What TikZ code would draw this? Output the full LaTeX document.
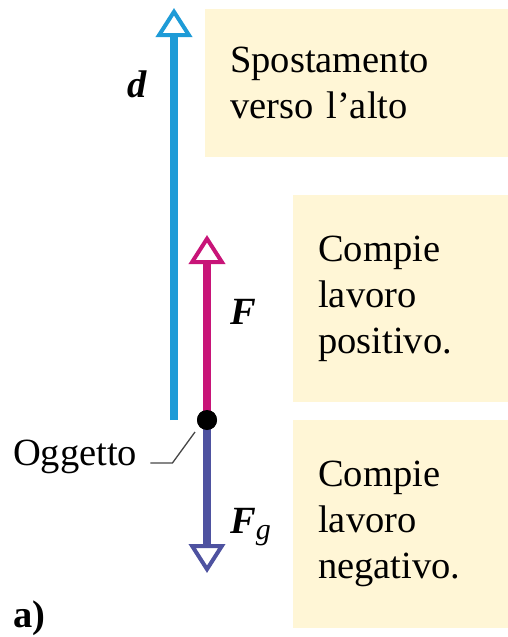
\documentclass[tikz,border=0pt]{standalone}
\usepackage{fontspec}
\setmainfont{Liberation Serif}
\usetikzlibrary{positioning,arrows.meta,calc}
\definecolor{dblue}{RGB}{30,155,215}
\definecolor{fmag}{RGB}{200,20,120}
\definecolor{fgviol}{RGB}{78,82,160}
\definecolor{notefill}{RGB}{255,246,214}
\definecolor{leadgray}{RGB}{70,70,70}

\begin{document}
\begin{tikzpicture}[x=1pt,y=-1pt,font=\fontsize{38.5}{46}\selectfont,
  note/.style={fill=notefill,anchor=north west,align=left,inner xsep=25pt,inner ysep=0pt},
  vec/.style={line width=8pt,-{Triangle[fill=white,length=29pt,width=36pt,line width=4pt]}},
  lbl/.style={inner sep=0pt,anchor=base west},
  leader/.style={draw=leadgray,line width=1.3pt},
  obj/.style={circle,fill=black,inner sep=0pt,minimum size=20pt}]
  \useasboundingbox (0,0) rectangle (508,637);
  % text boxes
  \node[note,text width=253pt,minimum height=148pt] (up) at (205,9) {Spostamento\\verso l’alto};
  \node[note,text width=165pt,minimum height=207pt] (pos) at (293,195) {Compie\\lavoro\\positivo.};
  \node[note,text width=165pt,minimum height=208pt] (neg) at (293,420) {Compie\\lavoro\\negativo.};
  % vectors
  \coordinate (dbot) at (174,420);
  \coordinate (dtop) at (174,8);
  \coordinate (Ftip) at (207,235);
  \coordinate (Fgtip) at (207,573);
  \node[obj] (ogg) at (207,420) {};
  \draw[vec,draw=dblue] (dbot) -- (dtop);
  \draw[vec,draw=fmag] (ogg.center) -- (Ftip);
  \draw[vec,draw=fgviol] (ogg.center) -- (Fgtip);
  \node[obj] at (ogg) {};
  % labels
  \node[lbl] (dl) at (127,97) {\textbf{\textit{d}}};
  \node[lbl] (Fl) at (230,324) {\textbf{\textit{F}}};
  \node[lbl] (Fgl) at (230,533) {\textbf{\textit{F}}\raisebox{-0.35ex}{\fontsize{30}{32}\selectfont\textit{g}}};
  \node[lbl] (ogglbl) at (13,465) {Oggetto};
  \draw[leader] ([shift={(13,-2)}]ogglbl.base east) -- ++(22,0) -- ([shift={(-12,12)}]ogg.center);
  \node[lbl] (part) at (13,627) {\textbf{a)}};
\end{tikzpicture}
\end{document}
